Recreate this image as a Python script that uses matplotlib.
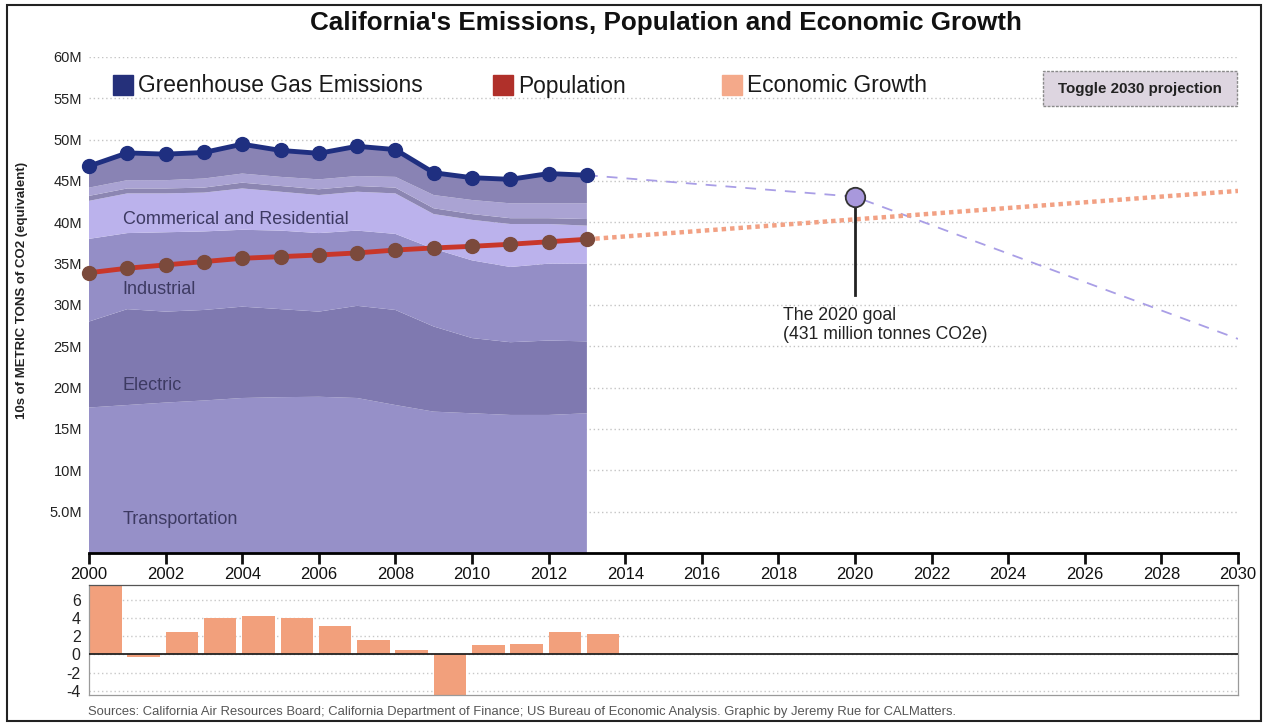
import matplotlib.pyplot as plt
import numpy as np
from matplotlib.patches import Rectangle

plt.rcParams['font.family'] = ['Liberation Sans', 'DejaVu Sans']
plt.rcParams['axes.unicode_minus'] = False

# emissions by sector, millions (2000-2013)
years = list(range(2000, 2014))
transport = [17.6, 17.9, 18.2, 18.45, 18.75, 18.85, 18.9, 18.75, 17.9, 17.1, 16.9, 16.7, 16.7, 16.9]
electric = [10.4, 11.6, 11.0, 10.95, 11.05, 10.65, 10.3, 11.15, 11.5, 10.3, 9.1, 8.8, 9.0, 8.7]
industrial = [10.0, 9.2, 9.6, 9.5, 9.3, 9.5, 9.5, 9.1, 9.2, 9.4, 9.4, 9.1, 9.3, 9.4]
commercial = [4.6, 4.8, 4.7, 4.7, 5.0, 4.7, 4.6, 4.7, 4.9, 4.2, 4.9, 5.2, 4.8, 4.6]
high_gwp = [0.6, 0.6, 0.6, 0.6, 0.7, 0.7, 0.7, 0.7, 0.7, 0.7, 0.7, 0.7, 0.7, 0.8]
waste = [1.0, 1.0, 1.0, 1.1, 1.1, 1.1, 1.2, 1.2, 1.3, 1.6, 1.7, 1.8, 1.8, 1.9]
agriculture = [2.6, 3.3, 3.15, 3.15, 3.55, 3.2, 3.15, 3.6, 3.3, 2.7, 2.7, 2.9, 3.6, 3.4]

population = [33.9, 34.45, 34.85, 35.25, 35.65, 35.85, 36.05, 36.3, 36.65, 36.9, 37.1, 37.35, 37.65, 37.95]
growth = [7.6, -0.3, 2.5, 4.0, 4.2, 4.0, 3.15, 1.55, 0.45, -4.4, 1.0, 1.1, 2.4, 2.2]

goal_2020 = 43.1
goal_2030 = 25.9
pop_2030 = 43.8

sector_labels = ['Commerical and Residential', 'Industrial', 'Electric', 'Transportation']
sector_label_y = [40.3, 31.9, 20.3, 4.0]

W, H = 1263, 723
fig = plt.figure(figsize=(W / 100, H / 100), dpi=100)

##### main chart
ax = fig.add_axes([89 / W, 1 - 553 / H, 1149 / W, 496 / H])

ax.stackplot(years, transport, electric, industrial, commercial, high_gwp, waste, agriculture,
             colors=['#9690c8', '#7f79b0', '#948ec6', '#bbb2ec', '#8c86b2', '#aaa3d3', '#8983b4'],
             linewidth=0, zorder=2)

ghg = np.sum([transport, electric, industrial, commercial, high_gwp, waste, agriculture], axis=0)

ax.plot([2013, 2020, 2030], [ghg[-1], goal_2020, goal_2030], color='#a99ee6', lw=1.3,
        dashes=(6, 5), zorder=3)
ax.plot([2013, 2030], [population[-1], pop_2030], color='#f2a184', lw=3.2,
        linestyle=(0, (1, 0.9)), zorder=3)

ax.plot(years, ghg, color='#1f2f80', lw=3.5, marker='o', ms=10, clip_on=False, zorder=5)
ax.plot(years, population, color='#c8372a', lw=3.5, marker='o', ms=10,
        mfc='#7b4a3c', mec='#7b4a3c', clip_on=False, zorder=5)

# 2020 goal marker
ax.plot([2020, 2020], [31.2, goal_2020], color='#222222', lw=2, zorder=6)
ax.plot(2020, goal_2020, 'o', ms=14, mfc='#a898dc', mec='#333333', mew=1.3, zorder=7)
ax.text(2018.12, 29.7, 'The 2020 goal\n(431 million tonnes CO2e)', fontsize=12.7,
        color='#222222', va='top', ha='left', linespacing=1.1)

for lab, y in zip(sector_labels, sector_label_y):
    ax.text(2000.88, y, lab, fontsize=13, color='#3d3a62', va='center', zorder=4)

ax.set_xlim(2000, 2030)
ax.set_ylim(0, 60)
ax.set_xticks(range(2000, 2031, 2))
ax.set_yticks(range(5, 61, 5))
ax.set_yticklabels(['5.0M'] + ['%dM' % v for v in range(10, 61, 5)])
ax.tick_params(axis='x', length=8, width=2, labelsize=12, pad=2, colors='#111111')
ax.tick_params(axis='y', length=0, labelsize=10.5, pad=5, colors='#222222')
ax.grid(axis='y', linestyle=(0, (1, 2)), color='#c4c4c4', lw=1)
ax.set_axisbelow(True)
for s in ['top', 'right', 'left']:
    ax.spines[s].set_visible(False)
ax.spines['bottom'].set_linewidth(2)
ax.spines['bottom'].set_zorder(8)

ax.set_ylabel('10s of METRIC TONS of CO2 (equivalent)', fontsize=9.5, fontweight='bold',
              color='#222222')
ax.yaxis.set_label_coords(-0.053, 0.53)

##### economic growth bars
bx = fig.add_axes([89 / W, 1 - 695 / H, 1149 / W, 110 / H])
bx.bar(years, growth, width=0.85, align='edge', color='#f2a07c', zorder=2)
bx.axhline(0, color='#222222', lw=1.3, zorder=3)
bx.set_xlim(2000, 2030)
bx.set_ylim(-4.45, 7.6)
bx.set_xticks([])
bx.set_yticks(range(-4, 7, 2))
bx.tick_params(axis='y', length=0, labelsize=11.5, pad=6, colors='#222222')
bx.grid(axis='y', linestyle=(0, (1, 2)), color='#c8c8c8', lw=1)
bx.set_axisbelow(True)
for s in bx.spines.values():
    s.set_color('#9a9a9a')
    s.set_linewidth(0.9)
bx.spines['top'].set_color('#555555')

##### title, legend, button, sources
fig.text(666 / W, 1 - 23 / H, "California's Emissions, Population and Economic Growth",
         ha='center', va='center', fontsize=18.7, fontweight='bold', color='#111111')

legend = [('Greenhouse Gas Emissions', '#25307a', 113),
          ('Population', '#b0302a', 493),
          ('Economic Growth', '#f4a98a', 722)]
for name, col, x in legend:
    fig.patches.append(Rectangle((x / W, 1 - 95 / H), 20 / W, 20 / H, color=col,
                                 transform=fig.transFigure))
    fig.text((x + 25) / W, 1 - 86 / H, name, fontsize=16.4, va='center', color='#1a1a1a')

fig.patches.append(Rectangle((1043 / W, 1 - 106 / H), 194 / W, 35 / H, facecolor='#ddd5e0',
                             edgecolor='#8a8a8a', lw=1, linestyle=(0, (2, 1)),
                             transform=fig.transFigure))
fig.text(1140 / W, 1 - 89 / H, 'Toggle 2030 projection', ha='center', va='center',
         fontsize=10.9, fontweight='bold', color='#222222')

fig.text(88 / W, 1 - 712 / H, 'Sources: California Air Resources Board; California Department '
         'of Finance; US Bureau of Economic Analysis. Graphic by Jeremy Rue for CALMatters.',
         fontsize=9.4, va='center', color='#555555')

fig.patches.append(Rectangle((7 / W, 2 / H), 1254 / W, 716 / H, fill=False, ec='#222222',
                             lw=1.5, transform=fig.transFigure))

plt.savefig('out.png', dpi=100)
